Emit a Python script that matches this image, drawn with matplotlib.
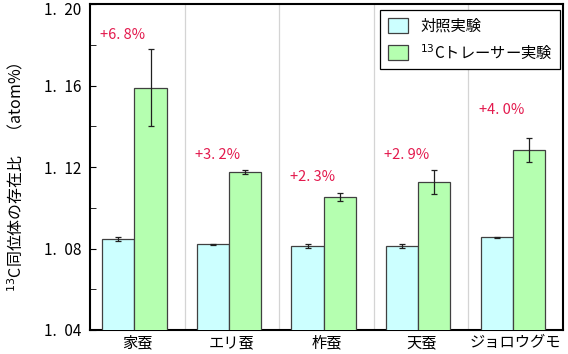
import numpy as np
import matplotlib
matplotlib.use('Agg')
import matplotlib.pyplot as plt
import matplotlib.transforms as mtransforms

plt.rcParams['font.family'] = ['Noto Sans CJK JP', 'DejaVu Sans']

# データ
categories = ['家蚕', 'エリ蚕', '柞蚕', '天蚕', 'ジョロウグモ']
control = [1.0848, 1.0820, 1.0812, 1.0812, 1.0855]
control_err = [0.0010, 0.0003, 0.0008, 0.0008, 0.0003]
tracer = [1.1590, 1.1175, 1.1054, 1.1127, 1.1284]
tracer_err = [0.0190, 0.0010, 0.0020, 0.0060, 0.0058]
pct_labels = ['+6. 8%', '+3. 2%', '+2. 3%', '+2. 9%', '+4. 0%']
pct_y = [1.1848, 1.1260, 1.1153, 1.1260, 1.1480]
yticks = [1.04, 1.08, 1.12, 1.16, 1.20]

fig = plt.figure(figsize=(5.68, 3.54), dpi=100)
ax = fig.add_axes([90/568, 24/354, 473/568, 326/354])

x = np.arange(len(categories))
w = 0.34
sh = -0.03
ax.bar(x + sh - w/2, control, w, yerr=control_err, color='#CCFFFF', edgecolor='#404040',
       linewidth=0.9, capsize=2.5, error_kw=dict(elinewidth=0.9, ecolor='#202020', capthick=0.9),
       label='対照実験', zorder=3)
ax.bar(x + sh + w/2, tracer, w, yerr=tracer_err, color='#B5FFB0', edgecolor='#404040',
       linewidth=0.9, capsize=2.5, error_kw=dict(elinewidth=0.9, ecolor='#202020', capthick=0.9),
       label='$^{13}$Cトレーサー実験', zorder=3)

for i, t in enumerate(pct_labels):
    ax.text(x[i] - 0.39, pct_y[i], t, color='#E3194D', fontsize=10.5,
            ha='left', va='center')

# 区切り線
for b in x[:-1] + 0.5:
    ax.axvline(b, color='#D4D4D4', linewidth=0.9, zorder=1)

ax.set_xlim(-0.5, len(categories) - 0.5)
ax.set_ylim(1.04, 1.20)
ax.set_yticks(yticks)
ax.set_yticklabels([('%.2f' % v).replace('.', '.\u2002') for v in yticks])
ax.set_yticks(np.arange(1.06, 1.20, 0.04), minor=True)
ax.tick_params(axis='y', direction='in', length=4, labelsize=11, pad=6)
ax.tick_params(axis='y', which='minor', direction='in', length=4)
# 一番上のラベルを少し下げる
top_lab = ax.get_yticklabels()[-1]
top_lab.set_transform(top_lab.get_transform() +
                      mtransforms.ScaledTranslation(0, -3/72, fig.dpi_scale_trans))
ax.set_xticks(x)
ax.set_xticklabels(categories, fontsize=11)
ax.tick_params(axis='x', length=0, pad=3)
for s in ax.spines.values():
    s.set_linewidth(1.5)
    s.set_color('black')

# 縦軸ラベル
fig.text(16/568, 1 - 177/354, '$^{13}$C同位体の存在比　（atom%）', fontsize=11.5,
         rotation=90, ha='center', va='center')

leg = ax.legend(loc='upper right', bbox_to_anchor=(0.994, 0.982), fontsize=11,
                frameon=True, fancybox=False, edgecolor='black', framealpha=1,
                handlelength=1.3, handleheight=1.1, borderaxespad=0,
                labelspacing=0.55, borderpad=0.5, handletextpad=0.8)
leg.get_frame().set_linewidth(0.9)

fig.savefig('out.png', dpi=100)
